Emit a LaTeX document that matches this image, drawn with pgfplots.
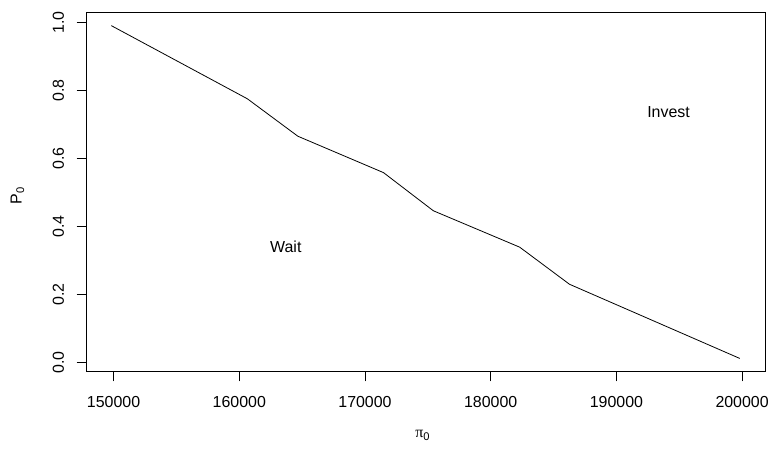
\documentclass[border=0pt]{standalone}
\usepackage{pgfplots}
\pgfplotsset{compat=1.18}
\usepackage{fontspec}
\setmainfont{Liberation Sans}
\newfontfamily\serifgr{Liberation Serif}
\begin{document}
\begin{tikzpicture}
\begin{axis}[
  scale only axis,
  width=681.5bp, height=360.8bp,
  xmin=147818, xmax=201818,
  ymin=-0.027, ymax=1.029,
  axis line style={black, line width=0.8bp},
  tick style={black, line width=0.8bp},
  tick align=outside,
  major tick length=9.6bp,
  xtick={150000,160000,170000,180000,190000,200000},
  ytick={0,0.2,0.4,0.6,0.8,1.0},
  xtick pos=bottom, ytick pos=left,
  scaled x ticks=false,
  /pgf/number format/assume math mode=true,
  xticklabel style={/pgf/number format/fixed, /pgf/number format/1000 sep={}, font=\fontsize{16bp}{19bp}\selectfont, anchor=north, yshift=-12bp},
  yticklabel style={/pgf/number format/fixed, /pgf/number format/fixed zerofill, /pgf/number format/precision=1, font=\fontsize{16bp}{19bp}\selectfont, rotate=90, anchor=south, yshift=9bp},
  xlabel={{\serifgr π}\textsubscript{0}},
  ylabel={P\textsubscript{0}},
  xlabel style={at={(axis description cs:0.4958,-0.1774)}, anchor=center, font=\fontsize{16bp}{19bp}\selectfont},
  ylabel style={at={(axis description cs:-0.1012,0.49)}, anchor=center, font=\fontsize{16bp}{19bp}\selectfont},
  clip=false,
]
\addplot[black, line width=0.8bp, mark=none] coordinates {
  (149818,0.990) (160642,0.775) (164659,0.665) (171474,0.558)
  (175436,0.446) (182306,0.339) (186268,0.230) (199818,0.012)
};
\node[font=\fontsize{16bp}{19bp}\selectfont] at (axis cs:163700,0.340) {Wait};
\node[font=\fontsize{16bp}{19bp}\selectfont] at (axis cs:194150,0.735) {Invest};
\end{axis}
\path (current axis.south west) ++(-86.5bp,-77.8bp) coordinate (bbA);
\path (current axis.north east) ++(4bp,12.4bp) coordinate (bbB);
\path (bbA) rectangle (bbB);
\end{tikzpicture}
\end{document}
